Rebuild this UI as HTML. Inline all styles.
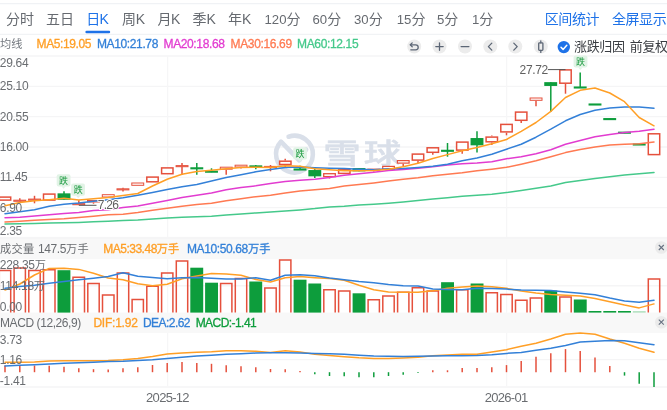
<!DOCTYPE html>
<html lang="zh-CN"><head><meta charset="utf-8"><title>K线图</title>
<style>
html,body{margin:0;padding:0;background:#fff;}
body{width:667px;height:410px;overflow:hidden;position:relative;font-family:"Liberation Sans","Noto Sans CJK SC",sans-serif;}
#r{position:absolute;left:0;top:0;width:667px;height:410px;will-change:transform;}
.t{position:absolute;white-space:nowrap;line-height:1.5;height:1.5em;}
.l{font-size:0.94em;}
.c{font-size:12px;line-height:18px;height:18px;}
.c .l{font-size:12px;}
.d .l{font-size:13px;}
.b{-webkit-text-stroke:0.3px currentColor;}
.h{-webkit-text-stroke:1.8px #fff;paint-order:stroke fill;}
svg{position:absolute;left:0;top:0;}
</style></head><body><div id="r">
<svg width="667" height="410" viewBox="0 0 667 410">
<line x1="0" x2="667" y1="3.6" y2="3.6" stroke="#f0f2f5" stroke-width="1.3"/>
<line x1="0" x2="667" y1="34.4" y2="34.4" stroke="#f1f3f5" stroke-width="1.3"/>
<rect x="85.4" y="30.8" width="24.8" height="2.5" rx="1.2" fill="#1e72e8"/>
<rect x="0" y="236.8" width="667" height="22.4" fill="#f8f8f8"/>
<rect x="0" y="312.6" width="667" height="20.4" fill="#f8f8f8"/>
<line x1="0" x2="667" y1="56" y2="56" stroke="#f5f5f6" stroke-width="1.4"/>
<line x1="0" x2="667" y1="86.33" y2="86.33" stroke="#f5f5f6" stroke-width="1.4"/>
<line x1="0" x2="667" y1="116.67" y2="116.67" stroke="#f5f5f6" stroke-width="1.4"/>
<line x1="0" x2="667" y1="147" y2="147" stroke="#f5f5f6" stroke-width="1.4"/>
<line x1="0" x2="667" y1="177.33" y2="177.33" stroke="#f5f5f6" stroke-width="1.4"/>
<line x1="0" x2="667" y1="207.67" y2="207.67" stroke="#f5f5f6" stroke-width="1.4"/>
<line x1="0" x2="667" y1="238" y2="238" stroke="#f5f5f6" stroke-width="1.4"/>
<line x1="0" x2="667" y1="285.7" y2="285.7" stroke="#f5f5f6" stroke-width="1.4"/>
<line x1="0" x2="667" y1="359.6" y2="359.6" stroke="#f5f5f6" stroke-width="1.4"/>
<line x1="0" x2="667" y1="387" y2="387" stroke="#f5f5f6" stroke-width="1.4"/>
<line x1="167.6" x2="167.6" y1="56" y2="237" stroke="#f6f6f7" stroke-width="1.3"/>
<line x1="167.6" x2="167.6" y1="259.2" y2="312.6" stroke="#f6f6f7" stroke-width="1.3"/>
<line x1="167.6" x2="167.6" y1="333" y2="386.5" stroke="#f6f6f7" stroke-width="1.3"/>
<line x1="506.6" x2="506.6" y1="56" y2="237" stroke="#f6f6f7" stroke-width="1.3"/>
<line x1="506.6" x2="506.6" y1="259.2" y2="312.6" stroke="#f6f6f7" stroke-width="1.3"/>
<line x1="506.6" x2="506.6" y1="333" y2="386.5" stroke="#f6f6f7" stroke-width="1.3"/>
<path d="M288.6 136.7 A18.4 18.4 0 1 1 281 141.6 L299.2 160.4 L306.2 149.4" fill="none" stroke="#d9dfe9" stroke-width="4.6" stroke-linecap="round" stroke-linejoin="round"/>
<text transform="translate(323.2 163.9) scale(1.31 1)" font-size="28.6" font-weight="500" letter-spacing="2.4" fill="#d9dfe9" stroke="#d9dfe9" stroke-width="0.5" font-family="'Liberation Sans','Noto Sans CJK SC',sans-serif">雪球</text>
<circle cx="414.2" cy="46.5" r="7" fill="#ececec"/>
<g transform="translate(414.2 46.5)" fill="none" stroke="#5c6675" stroke-width="1.3" stroke-linecap="round" stroke-linejoin="round"><path d="M-3.8 -1.7 H1.5 A2.5 2.5 0 0 1 1.5 3.3 H-3.4"/><path d="M-2 -3.6 L-3.9 -1.7 L-2 0.2"/></g>
<circle cx="439.5" cy="46.5" r="7" fill="#ececec"/>
<g transform="translate(439.5 46.5)" fill="none" stroke="#5c6675" stroke-width="1.3" stroke-linecap="round" stroke-linejoin="round"><path d="M-3.7 0.1 H3.7 M0 -3.6 V3.8"/></g>
<circle cx="465" cy="46.5" r="7" fill="#ececec"/>
<g transform="translate(465 46.5)" fill="none" stroke="#5c6675" stroke-width="1.3" stroke-linecap="round" stroke-linejoin="round"><path d="M-3.9 0.1 H3.9"/></g>
<circle cx="490.3" cy="46.5" r="7" fill="#ececec"/>
<g transform="translate(490.3 46.5)" fill="none" stroke="#5c6675" stroke-width="1.3" stroke-linecap="round" stroke-linejoin="round"><path d="M1.5 -3.4 L-1.9 0.1 L1.5 3.6"/></g>
<circle cx="515.3" cy="46.5" r="7" fill="#ececec"/>
<g transform="translate(515.3 46.5)" fill="none" stroke="#5c6675" stroke-width="1.3" stroke-linecap="round" stroke-linejoin="round"><path d="M-1.5 -3.4 L1.9 0.1 L-1.5 3.6"/></g>
<circle cx="540.8" cy="46.5" r="7" fill="#ececec"/>
<g transform="translate(540.8 46.5)" fill="none" stroke="#5c6675" stroke-width="1.3" stroke-linecap="round" stroke-linejoin="round"><rect x="-2.1" y="-3.7" width="4.2" height="7.6" rx="0.8"/><path d="M0 -5.7 V-3.7 M0 3.9 V5.9"/></g>
<circle cx="563.8" cy="47.1" r="6.2" fill="#1e72e8"/><path d="M561 47.3 L563.1 49.4 L566.8 45.2" fill="none" stroke="#fff" stroke-width="1.5" stroke-linecap="round" stroke-linejoin="round"/>
<circle cx="661.3" cy="247.5" r="6.3" fill="#ebebeb"/><path d="M658.8 245.0 l5 5 m0 -5 l-5 5" stroke="#667080" stroke-width="1.1" fill="none"/>
<circle cx="661.3" cy="322.2" r="6.3" fill="#ebebeb"/><path d="M658.8 319.7 l5 5 m0 -5 l-5 5" stroke="#667080" stroke-width="1.1" fill="none"/>
<rect x="-0.7" y="197.1" width="11.4" height="3" fill="#fff" stroke="#e5503c" stroke-width="1.5"/>
<line x1="19.8" x2="19.8" y1="198.3" y2="200.8" stroke="#e5503c" stroke-width="1.5"/>
<line x1="19.8" x2="19.8" y1="200.8" y2="202.5" stroke="#e5503c" stroke-width="1.5"/>
<rect x="13.8" y="200.2" width="11.9" height="1.1" fill="#fff" stroke="#e5503c" stroke-width="1"/>
<line x1="34.5" x2="34.5" y1="195.8" y2="199.7" stroke="#e5503c" stroke-width="1.5"/>
<line x1="34.5" x2="34.5" y1="199.7" y2="203.3" stroke="#e5503c" stroke-width="1.5"/>
<rect x="28.6" y="199.1" width="11.9" height="1.1" fill="#fff" stroke="#e5503c" stroke-width="1"/>
<rect x="43.5" y="194.1" width="11.4" height="6" fill="#fff" stroke="#e5503c" stroke-width="1.5"/>
<line x1="64" x2="64" y1="191.3" y2="199.7" stroke="#0d9d3c" stroke-width="1.5"/>
<rect x="58.3" y="194.1" width="11.4" height="4.9" fill="#0d9d3c" stroke="#0d9d3c" stroke-width="1.5"/>
<line x1="78.8" x2="78.8" y1="200.2" y2="204.2" stroke="#e5503c" stroke-width="1.5"/>
<rect x="72.8" y="203.6" width="11.9" height="1.1" fill="#fff" stroke="#e5503c" stroke-width="1"/>
<line x1="93.5" x2="93.5" y1="202.5" y2="203.7" stroke="#e5503c" stroke-width="1.5"/>
<rect x="87.5" y="200.5" width="11.9" height="1.5" fill="#fff" stroke="#e5503c" stroke-width="1"/>
<rect x="102.3" y="194.7" width="11.9" height="2.3" fill="#fff" stroke="#e5503c" stroke-width="1"/>
<line x1="123" x2="123" y1="187.7" y2="189.4" stroke="#e5503c" stroke-width="1.5"/>
<line x1="123" x2="123" y1="189.4" y2="191.5" stroke="#e5503c" stroke-width="1.5"/>
<rect x="117" y="188.8" width="11.9" height="1.1" fill="#fff" stroke="#e5503c" stroke-width="1"/>
<rect x="131.8" y="183" width="11.9" height="2.3" fill="#fff" stroke="#e5503c" stroke-width="1"/>
<rect x="146.8" y="177.1" width="11.4" height="4.7" fill="#fff" stroke="#e5503c" stroke-width="1.5"/>
<rect x="161.6" y="167.9" width="11.4" height="5.8" fill="#fff" stroke="#e5503c" stroke-width="1.5"/>
<line x1="182" x2="182" y1="163" y2="166.2" stroke="#e5503c" stroke-width="1.5"/>
<line x1="182" x2="182" y1="166.2" y2="175" stroke="#e5503c" stroke-width="1.5"/>
<rect x="176.1" y="165.6" width="11.9" height="1.1" fill="#fff" stroke="#e5503c" stroke-width="1"/>
<line x1="196.8" x2="196.8" y1="163" y2="174.7" stroke="#0d9d3c" stroke-width="1.5"/>
<rect x="191.1" y="168" width="11.4" height="0.6" fill="#0d9d3c" stroke="#0d9d3c" stroke-width="1.5"/>
<line x1="211.5" x2="211.5" y1="168.3" y2="172.2" stroke="#0d9d3c" stroke-width="1.5"/>
<rect x="205.8" y="171.4" width="11.4" height="0.6" fill="#0d9d3c" stroke="#0d9d3c" stroke-width="1.5"/>
<line x1="226.2" x2="226.2" y1="169.7" y2="174.7" stroke="#e5503c" stroke-width="1.5"/>
<rect x="220.3" y="167.2" width="11.9" height="2" fill="#fff" stroke="#e5503c" stroke-width="1"/>
<line x1="241" x2="241" y1="167.5" y2="168.5" stroke="#e5503c" stroke-width="1.5"/>
<rect x="235.1" y="165.2" width="11.9" height="1.8" fill="#fff" stroke="#e5503c" stroke-width="1"/>
<line x1="255.8" x2="255.8" y1="165" y2="169.2" stroke="#0d9d3c" stroke-width="1.5"/>
<rect x="250.1" y="166.1" width="11.4" height="0.6" fill="#0d9d3c" stroke="#0d9d3c" stroke-width="1.5"/>
<line x1="270.5" x2="270.5" y1="165" y2="167" stroke="#e5503c" stroke-width="1.5"/>
<line x1="270.5" x2="270.5" y1="167" y2="171.3" stroke="#e5503c" stroke-width="1.5"/>
<rect x="264.6" y="166.4" width="11.9" height="1.1" fill="#fff" stroke="#e5503c" stroke-width="1"/>
<line x1="285.2" x2="285.2" y1="158.7" y2="160.5" stroke="#e5503c" stroke-width="1.5"/>
<line x1="285.2" x2="285.2" y1="165.3" y2="167" stroke="#e5503c" stroke-width="1.5"/>
<rect x="279.6" y="161.2" width="11.4" height="3.3" fill="#fff" stroke="#e5503c" stroke-width="1.5"/>
<line x1="300" x2="300" y1="165.8" y2="170" stroke="#0d9d3c" stroke-width="1.5"/>
<rect x="294.3" y="169.2" width="11.4" height="0.6" fill="#0d9d3c" stroke="#0d9d3c" stroke-width="1.5"/>
<line x1="314.8" x2="314.8" y1="168.7" y2="178" stroke="#0d9d3c" stroke-width="1.5"/>
<rect x="309.1" y="170.8" width="11.4" height="4.8" fill="#0d9d3c" stroke="#0d9d3c" stroke-width="1.5"/>
<line x1="329.5" x2="329.5" y1="177.2" y2="178.5" stroke="#e5503c" stroke-width="1.5"/>
<rect x="323.7" y="173.7" width="11.6" height="2.9" fill="#fff" stroke="#e5503c" stroke-width="1.3"/>
<rect x="338.6" y="169.4" width="11.4" height="4" fill="#fff" stroke="#e5503c" stroke-width="1.5"/>
<line x1="359" x2="359" y1="168" y2="171.3" stroke="#0d9d3c" stroke-width="1.5"/>
<rect x="353.3" y="168.8" width="11.4" height="1.8" fill="#0d9d3c" stroke="#0d9d3c" stroke-width="1.5"/>
<line x1="373.8" x2="373.8" y1="169.7" y2="171.5" stroke="#e5503c" stroke-width="1.5"/>
<rect x="367.8" y="169.1" width="11.9" height="1.1" fill="#fff" stroke="#e5503c" stroke-width="1"/>
<rect x="382.7" y="166.4" width="11.7" height="2.7" fill="#fff" stroke="#e5503c" stroke-width="1.2"/>
<line x1="403.2" x2="403.2" y1="163.7" y2="166.7" stroke="#e5503c" stroke-width="1.5"/>
<rect x="397.4" y="160.6" width="11.7" height="2.5" fill="#fff" stroke="#e5503c" stroke-width="1.2"/>
<line x1="418" x2="418" y1="160.8" y2="163" stroke="#e5503c" stroke-width="1.5"/>
<rect x="412.3" y="154.1" width="11.4" height="6" fill="#fff" stroke="#e5503c" stroke-width="1.5"/>
<line x1="432.8" x2="432.8" y1="153" y2="154.7" stroke="#e5503c" stroke-width="1.5"/>
<rect x="427.1" y="147.8" width="11.4" height="4.5" fill="#fff" stroke="#e5503c" stroke-width="1.5"/>
<line x1="447.5" x2="447.5" y1="143" y2="156.7" stroke="#0d9d3c" stroke-width="1.5"/>
<rect x="441.8" y="150.5" width="11.4" height="0.6" fill="#0d9d3c" stroke="#0d9d3c" stroke-width="1.5"/>
<line x1="462.2" x2="462.2" y1="150.8" y2="153.7" stroke="#e5503c" stroke-width="1.5"/>
<rect x="456.6" y="142.1" width="11.4" height="8" fill="#fff" stroke="#e5503c" stroke-width="1.5"/>
<line x1="477" x2="477" y1="131.2" y2="152.5" stroke="#0d9d3c" stroke-width="1.5"/>
<rect x="471.3" y="138.8" width="11.4" height="5.8" fill="#0d9d3c" stroke="#0d9d3c" stroke-width="1.5"/>
<line x1="491.8" x2="491.8" y1="135.5" y2="136.3" stroke="#e5503c" stroke-width="1.5"/>
<line x1="491.8" x2="491.8" y1="142.5" y2="145" stroke="#e5503c" stroke-width="1.5"/>
<rect x="486.1" y="137.1" width="11.4" height="4.7" fill="#fff" stroke="#e5503c" stroke-width="1.5"/>
<line x1="506.5" x2="506.5" y1="132.7" y2="135.3" stroke="#e5503c" stroke-width="1.5"/>
<rect x="500.8" y="124.4" width="11.4" height="7.5" fill="#fff" stroke="#e5503c" stroke-width="1.5"/>
<line x1="521.2" x2="521.2" y1="121" y2="123" stroke="#e5503c" stroke-width="1.5"/>
<rect x="515.5" y="112.1" width="11.4" height="8.2" fill="#fff" stroke="#e5503c" stroke-width="1.5"/>
<line x1="536" x2="536" y1="100.8" y2="106.3" stroke="#e5503c" stroke-width="1.5"/>
<rect x="530.1" y="98" width="11.9" height="2.3" fill="#fff" stroke="#e5503c" stroke-width="1"/>
<line x1="550.8" x2="550.8" y1="82.2" y2="111.7" stroke="#0d9d3c" stroke-width="1.5"/>
<rect x="545" y="82.9" width="11.4" height="2.3" fill="#0d9d3c" stroke="#0d9d3c" stroke-width="1.5"/>
<line x1="565.5" x2="565.5" y1="84" y2="93.7" stroke="#e5503c" stroke-width="1.5"/>
<rect x="559.8" y="69.9" width="11.4" height="13.3" fill="#fff" stroke="#e5503c" stroke-width="1.5"/>
<line x1="580.2" x2="580.2" y1="72.5" y2="88" stroke="#0d9d3c" stroke-width="1.5"/>
<rect x="574.5" y="87.2" width="11.4" height="0.6" fill="#0d9d3c" stroke="#0d9d3c" stroke-width="1.5"/>
<line x1="595" x2="595" y1="104" y2="105" stroke="#0d9d3c" stroke-width="1.5"/>
<rect x="589.3" y="104.2" width="11.4" height="0.6" fill="#0d9d3c" stroke="#0d9d3c" stroke-width="1.5"/>
<line x1="609.8" x2="609.8" y1="118.6" y2="119.6" stroke="#0d9d3c" stroke-width="1.5"/>
<rect x="604" y="118.8" width="11.4" height="0.6" fill="#0d9d3c" stroke="#0d9d3c" stroke-width="1.5"/>
<line x1="624.5" x2="624.5" y1="132.2" y2="133.2" stroke="#0d9d3c" stroke-width="1.5"/>
<rect x="618.8" y="132.4" width="11.4" height="0.6" fill="#0d9d3c" stroke="#0d9d3c" stroke-width="1.5"/>
<line x1="639.2" x2="639.2" y1="144" y2="145" stroke="#0d9d3c" stroke-width="1.5"/>
<rect x="633.5" y="144.2" width="11.4" height="0.6" fill="#0d9d3c" stroke="#0d9d3c" stroke-width="1.5"/>
<rect x="648.3" y="133.8" width="11.4" height="20.8" fill="#fff" stroke="#e5503c" stroke-width="1.5"/>
<polyline points="5,224.1 19.8,223.8 34.5,223.5 49.2,223.1 64,222.7 78.8,222.4 93.5,221.8 108.2,221.2 123,220.6 137.8,220 152.5,218.9 167.2,217.9 182,217.3 196.8,216.8 211.5,216.2 226.2,215.1 241,214 255.8,212.9 270.5,211.9 285.2,210.9 300,209.9 314.8,208.6 329.5,206.9 344.2,206.3 359,205 373.8,204.2 388.5,203.2 403.2,202 418,200.5 432.8,199.1 447.5,197.7 462.2,196.2 477,195.2 491.8,194.2 506.5,192.5 521.2,190.5 536,188.3 550.8,186 565.5,182.4 580.2,180.4 595,178.5 609.8,176.7 624.5,175.1 639.2,173.8 654,172.4" fill="none" stroke="#45c98b" stroke-width="1.5" stroke-linejoin="round" stroke-linecap="round"/>
<polyline points="5,222 19.8,221.2 34.5,220.3 49.2,219.5 64,218.7 78.8,217.5 93.5,216.2 108.2,214.7 123,214.2 137.8,212.5 152.5,210.3 167.2,208.3 182,206.2 196.8,204.5 211.5,203.3 226.2,200.8 241,198.7 255.8,196.7 270.5,195.3 285.2,193 300,190.9 314.8,189.8 329.5,188.4 344.2,186.1 359,184.4 373.8,182.9 388.5,181.1 403.2,179.2 418,177.8 432.8,175.8 447.5,174.2 462.2,172.8 477,170.8 491.8,169.2 506.5,167.3 521.2,164.2 536,160.8 550.8,156.7 565.5,152.6 580.2,149.5 595,147 609.8,145.1 624.5,144.2 639.2,143.8 654,142" fill="none" stroke="#ff7a52" stroke-width="1.5" stroke-linejoin="round" stroke-linecap="round"/>
<polyline points="5,217.8 19.8,217.3 34.5,216 49.2,214.8 64,213.6 78.8,212.6 93.5,210.5 108.2,209.8 123,207.6 137.8,205.9 152.5,203.2 167.2,200.5 182,197.5 196.8,195.3 211.5,193 226.2,189.8 241,187.6 255.8,185.8 270.5,183.5 285.2,181.5 300,180.3 314.8,179.2 329.5,177.5 344.2,175.3 359,173.8 373.8,172.2 388.5,170.5 403.2,169.4 418,168.3 432.8,166.7 447.5,164.9 462.2,163.8 477,163 491.8,161.7 506.5,158.7 521.2,156.7 536,153.7 550.8,149.7 565.5,144.2 580.2,140.5 595,136.8 609.8,134.4 624.5,132.5 639.2,131.3 654,129.2" fill="none" stroke="#e23cd0" stroke-width="1.5" stroke-linejoin="round" stroke-linecap="round"/>
<polyline points="5,213.7 19.8,211.7 34.5,209.7 49.2,206.3 64,204.2 78.8,203 93.5,201.3 108.2,199.7 123,197.8 137.8,195.2 152.5,192.5 167.2,189.5 182,186.7 196.8,184.5 211.5,180.9 226.2,177.6 241,174.8 255.8,171.8 270.5,169.6 285.2,167.6 300,167.1 314.8,167.7 329.5,168.2 344.2,168.5 359,169.3 373.8,169.8 388.5,168.8 403.2,168.6 418,167.5 432.8,166.3 447.5,164.2 462.2,160.8 477,158 491.8,154.2 506.5,149.2 521.2,144.2 536,137.2 550.8,129.2 565.5,120.8 580.2,114.5 595,110.3 609.8,108 624.5,107 639.2,107 654,108.3" fill="none" stroke="#3380d8" stroke-width="1.5" stroke-linejoin="round" stroke-linecap="round"/>
<polyline points="5,205.8 19.8,202.5 34.5,200.8 49.2,199.7 64,198.3 78.8,200 93.5,198.7 108.2,197.5 123,195.5 137.8,193.5 152.5,186 167.2,179.2 182,174.2 196.8,171.6 211.5,170.3 226.2,168.8 241,167.6 255.8,167.2 270.5,167.5 285.2,165.8 300,166.3 314.8,168.7 329.5,169.7 344.2,170.8 359,170.8 373.8,170.4 388.5,169.2 403.2,166.7 418,163.3 432.8,158.5 447.5,154.6 462.2,150.8 477,147.5 491.8,143.7 506.5,139.5 521.2,131.3 536,122.5 550.8,111.4 565.5,97.5 580.2,90.3 595,88 609.8,93 624.5,101.7 639.2,117.5 654,125.8" fill="none" stroke="#ff9f26" stroke-width="1.5" stroke-linejoin="round" stroke-linecap="round"/>
<line x1="547.5" x2="565.5" y1="69.6" y2="69.6" stroke="#555" stroke-width="1"/>
<line x1="78.8" x2="96.5" y1="205.3" y2="205.3" stroke="#555" stroke-width="1"/>
<rect x="56.7" y="174.2" width="13.8" height="12.2" rx="2" fill="#e2f3e6"/><path d="M61.4 186.3 h4.4 l-2.2 2.4 z" fill="#e2f3e6"/>
<text x="63.6" y="183.7" font-size="9" fill="#17993c" text-anchor="middle" font-family="'Liberation Sans','Noto Sans CJK SC',sans-serif">跌</text>
<rect x="71.2" y="183.6" width="13.8" height="12.2" rx="2" fill="#e2f3e6"/><path d="M76 195.7 h4.4 l-2.2 2.4 z" fill="#e2f3e6"/>
<text x="78.2" y="193.1" font-size="9" fill="#17993c" text-anchor="middle" font-family="'Liberation Sans','Noto Sans CJK SC',sans-serif">跌</text>
<rect x="293.2" y="147.2" width="13.8" height="12.2" rx="2" fill="#e2f3e6"/><path d="M297.9 159.3 h4.4 l-2.2 2.4 z" fill="#e2f3e6"/>
<text x="300.1" y="156.7" font-size="9" fill="#17993c" text-anchor="middle" font-family="'Liberation Sans','Noto Sans CJK SC',sans-serif">跌</text>
<rect x="573.6" y="55.4" width="13.8" height="12.2" rx="2" fill="#e2f3e6"/><path d="M578.2 67.5 h4.4 l-2.2 2.4 z" fill="#e2f3e6"/>
<text x="580.5" y="64.9" font-size="9" fill="#17993c" text-anchor="middle" font-family="'Liberation Sans','Noto Sans CJK SC',sans-serif">跌</text>
<path d="M-0.7 312.6 V270.4 H10.7 V312.6" fill="none" stroke="#e5503c" stroke-width="1.5"/>
<path d="M14.1 312.6 V267.9 H25.4 V312.6" fill="none" stroke="#e5503c" stroke-width="1.5"/>
<path d="M28.8 312.6 V270.4 H40.2 V312.6" fill="none" stroke="#e5503c" stroke-width="1.5"/>
<path d="M43.5 312.6 V269.8 H55 V312.6" fill="none" stroke="#e5503c" stroke-width="1.5"/>
<rect x="57.5" y="270.2" width="12.9" height="42.4" fill="#0d9d3c"/>
<path d="M73 312.6 V277.2 H84.5 V312.6" fill="none" stroke="#e5503c" stroke-width="1.5"/>
<path d="M87.8 312.6 V283.4 H99.2 V312.6" fill="none" stroke="#e5503c" stroke-width="1.5"/>
<path d="M102.5 312.6 V294.9 H114 V312.6" fill="none" stroke="#e5503c" stroke-width="1.5"/>
<path d="M117.3 312.6 V272.9 H128.7 V312.6" fill="none" stroke="#e5503c" stroke-width="1.5"/>
<path d="M132.1 312.6 V299.4 H143.4 V312.6" fill="none" stroke="#e5503c" stroke-width="1.5"/>
<path d="M146.8 312.6 V286.2 H158.2 V312.6" fill="none" stroke="#e5503c" stroke-width="1.5"/>
<path d="M161.6 312.6 V272.9 H172.9 V312.6" fill="none" stroke="#e5503c" stroke-width="1.5"/>
<path d="M176.3 312.6 V260.9 H187.7 V312.6" fill="none" stroke="#e5503c" stroke-width="1.5"/>
<rect x="190.3" y="267.7" width="12.9" height="44.9" fill="#0d9d3c"/>
<rect x="205.1" y="282.7" width="12.9" height="29.9" fill="#0d9d3c"/>
<path d="M220.6 312.6 V283.4 H231.9 V312.6" fill="none" stroke="#e5503c" stroke-width="1.5"/>
<path d="M235.3 312.6 V278.4 H246.7 V312.6" fill="none" stroke="#e5503c" stroke-width="1.5"/>
<rect x="249.3" y="281.5" width="12.9" height="31.1" fill="#0d9d3c"/>
<path d="M264.8 312.6 V288.1 H276.2 V312.6" fill="none" stroke="#e5503c" stroke-width="1.5"/>
<path d="M279.6 312.6 V260.1 H290.9 V312.6" fill="none" stroke="#e5503c" stroke-width="1.5"/>
<rect x="293.6" y="279.7" width="12.9" height="32.9" fill="#0d9d3c"/>
<rect x="308.3" y="283.5" width="12.9" height="29.1" fill="#0d9d3c"/>
<path d="M323.8 312.6 V289.8 H335.2 V312.6" fill="none" stroke="#e5503c" stroke-width="1.5"/>
<path d="M338.6 312.6 V291.1 H349.9 V312.6" fill="none" stroke="#e5503c" stroke-width="1.5"/>
<rect x="352.6" y="293.3" width="12.9" height="19.3" fill="#0d9d3c"/>
<path d="M368.1 312.6 V299.8 H379.4 V312.6" fill="none" stroke="#e5503c" stroke-width="1.5"/>
<path d="M382.8 312.6 V296.1 H394.2 V312.6" fill="none" stroke="#e5503c" stroke-width="1.5"/>
<path d="M397.6 312.6 V292.2 H408.9 V312.6" fill="none" stroke="#e5503c" stroke-width="1.5"/>
<path d="M412.3 312.6 V287.8 H423.7 V312.6" fill="none" stroke="#e5503c" stroke-width="1.5"/>
<path d="M427.1 312.6 V291.1 H438.4 V312.6" fill="none" stroke="#e5503c" stroke-width="1.5"/>
<rect x="441.1" y="282.2" width="12.9" height="30.4" fill="#0d9d3c"/>
<path d="M456.6 312.6 V289.8 H467.9 V312.6" fill="none" stroke="#e5503c" stroke-width="1.5"/>
<rect x="470.6" y="283.5" width="12.9" height="29.1" fill="#0d9d3c"/>
<path d="M486.1 312.6 V292.8 H497.4 V312.6" fill="none" stroke="#e5503c" stroke-width="1.5"/>
<path d="M500.8 312.6 V294.6 H512.2 V312.6" fill="none" stroke="#e5503c" stroke-width="1.5"/>
<path d="M515.5 312.6 V300.2 H527 V312.6" fill="none" stroke="#e5503c" stroke-width="1.5"/>
<path d="M530.3 312.6 V297.9 H541.7 V312.6" fill="none" stroke="#e5503c" stroke-width="1.5"/>
<rect x="544.3" y="290.5" width="12.9" height="22.1" fill="#0d9d3c"/>
<path d="M559.8 312.6 V296.9 H571.2 V312.6" fill="none" stroke="#e5503c" stroke-width="1.5"/>
<rect x="573.8" y="299.5" width="12.9" height="13.1" fill="#0d9d3c"/>
<rect x="588.5" y="311" width="12.9" height="1.6" fill="#0d9d3c"/>
<rect x="603.3" y="311" width="12.9" height="1.6" fill="#0d9d3c"/>
<rect x="618" y="311" width="12.9" height="1.6" fill="#0d9d3c"/>
<rect x="632.8" y="311.2" width="12.9" height="1.4" fill="#a9dcb8"/>
<path d="M648.3 312.6 V279.1 H659.7 V312.6" fill="none" stroke="#e5503c" stroke-width="1.5"/>
<polyline points="5,290 19.8,284 34.5,275 49.2,268.4 64,268.2 78.8,269.4 93.5,273.3 108.2,278 123,279.7 137.8,283.8 152.5,285.8 167.2,284.2 182,278.7 196.8,276 211.5,273.4 226.2,274 241,275.2 255.8,279.5 270.5,282 285.2,277.7 300,276.5 314.8,277.7 329.5,278.6 344.2,280.2 359,285.3 373.8,289.8 388.5,292 403.2,292.3 418,292.3 432.8,290.8 447.5,288.3 462.2,287 477,286 491.8,286.7 506.5,288.3 521.2,291 536,293 550.8,294.4 565.5,295.3 580.2,296.1 595,298.4 609.8,301.7 624.5,305 639.2,307.9 654,303.9" fill="none" stroke="#ff9f26" stroke-width="1.5" stroke-linejoin="round" stroke-linecap="round"/>
<polyline points="5,288.3 19.8,286.5 34.5,285.3 49.2,283.2 64,281.5 78.8,279.7 93.5,278.2 108.2,276.5 123,272.7 137.8,276.3 152.5,277.5 167.2,278.7 182,277.7 196.8,277.5 211.5,278.2 226.2,279 241,279 255.8,277.7 270.5,280.2 285.2,275.2 300,274.7 314.8,275.7 329.5,278 344.2,279.7 359,281.5 373.8,282.7 388.5,284.5 403.2,285.8 418,286 432.8,289 447.5,289.5 462.2,289.8 477,288.3 491.8,288.6 506.5,289.1 521.2,290 536,290.2 550.8,290.5 565.5,291.9 580.2,293.3 595,294.7 609.8,298.1 624.5,300.9 639.2,302.3 654,300.2" fill="none" stroke="#3380d8" stroke-width="1.5" stroke-linejoin="round" stroke-linecap="round"/>
<line x1="5" x2="5" y1="372.2" y2="365.5" stroke="#e5503c" stroke-width="1.5"/>
<line x1="19.8" x2="19.8" y1="372.2" y2="365.5" stroke="#e5503c" stroke-width="1.5"/>
<line x1="34.5" x2="34.5" y1="372.2" y2="365.5" stroke="#e5503c" stroke-width="1.5"/>
<line x1="49.2" x2="49.2" y1="372.2" y2="365.8" stroke="#e5503c" stroke-width="1.5"/>
<line x1="64" x2="64" y1="372.2" y2="366.7" stroke="#e5503c" stroke-width="1.5"/>
<line x1="78.8" x2="78.8" y1="372.2" y2="368.3" stroke="#e5503c" stroke-width="1.5"/>
<line x1="93.5" x2="93.5" y1="372.2" y2="369.2" stroke="#e5503c" stroke-width="1.5"/>
<line x1="108.2" x2="108.2" y1="372.2" y2="369.4" stroke="#e5503c" stroke-width="1.5"/>
<line x1="123" x2="123" y1="372.2" y2="368.3" stroke="#e5503c" stroke-width="1.5"/>
<line x1="137.8" x2="137.8" y1="372.2" y2="367.2" stroke="#e5503c" stroke-width="1.5"/>
<line x1="152.5" x2="152.5" y1="372.2" y2="365" stroke="#e5503c" stroke-width="1.5"/>
<line x1="167.2" x2="167.2" y1="372.2" y2="363" stroke="#e5503c" stroke-width="1.5"/>
<line x1="182" x2="182" y1="372.2" y2="362" stroke="#e5503c" stroke-width="1.5"/>
<line x1="196.8" x2="196.8" y1="372.2" y2="363" stroke="#e5503c" stroke-width="1.5"/>
<line x1="211.5" x2="211.5" y1="372.2" y2="363.8" stroke="#e5503c" stroke-width="1.5"/>
<line x1="226.2" x2="226.2" y1="372.2" y2="365.3" stroke="#e5503c" stroke-width="1.5"/>
<line x1="241" x2="241" y1="372.2" y2="366.3" stroke="#e5503c" stroke-width="1.5"/>
<line x1="255.8" x2="255.8" y1="372.2" y2="367.3" stroke="#e5503c" stroke-width="1.5"/>
<line x1="270.5" x2="270.5" y1="372.2" y2="369" stroke="#e5503c" stroke-width="1.5"/>
<line x1="285.2" x2="285.2" y1="372.2" y2="369.3" stroke="#e5503c" stroke-width="1.5"/>
<line x1="300" x2="300" y1="372.2" y2="371" stroke="#e5503c" stroke-width="1.5"/>
<line x1="314.8" x2="314.8" y1="372.2" y2="374.3" stroke="#0d9d3c" stroke-width="1.5"/>
<line x1="329.5" x2="329.5" y1="372.2" y2="376" stroke="#0d9d3c" stroke-width="1.5"/>
<line x1="344.2" x2="344.2" y1="372.2" y2="376.3" stroke="#0d9d3c" stroke-width="1.5"/>
<line x1="359" x2="359" y1="372.2" y2="377.3" stroke="#0d9d3c" stroke-width="1.5"/>
<line x1="373.8" x2="373.8" y1="372.2" y2="377.3" stroke="#0d9d3c" stroke-width="1.5"/>
<line x1="388.5" x2="388.5" y1="372.2" y2="376" stroke="#0d9d3c" stroke-width="1.5"/>
<line x1="403.2" x2="403.2" y1="372.2" y2="374.8" stroke="#0d9d3c" stroke-width="1.5"/>
<line x1="418" x2="418" y1="372.2" y2="373" stroke="#0d9d3c" stroke-width="1.5"/>
<line x1="432.8" x2="432.8" y1="372.2" y2="370.3" stroke="#e5503c" stroke-width="1.5"/>
<line x1="447.5" x2="447.5" y1="372.2" y2="370.3" stroke="#e5503c" stroke-width="1.5"/>
<line x1="462.2" x2="462.2" y1="372.2" y2="368" stroke="#e5503c" stroke-width="1.5"/>
<line x1="477" x2="477" y1="372.2" y2="368" stroke="#e5503c" stroke-width="1.5"/>
<line x1="491.8" x2="491.8" y1="372.2" y2="367.3" stroke="#e5503c" stroke-width="1.5"/>
<line x1="506.5" x2="506.5" y1="372.2" y2="365.1" stroke="#e5503c" stroke-width="1.5"/>
<line x1="521.2" x2="521.2" y1="372.2" y2="360.9" stroke="#e5503c" stroke-width="1.5"/>
<line x1="536" x2="536" y1="372.2" y2="356.7" stroke="#e5503c" stroke-width="1.5"/>
<line x1="550.8" x2="550.8" y1="372.2" y2="353.3" stroke="#e5503c" stroke-width="1.5"/>
<line x1="565.5" x2="565.5" y1="372.2" y2="349.1" stroke="#e5503c" stroke-width="1.5"/>
<line x1="580.2" x2="580.2" y1="372.2" y2="351" stroke="#e5503c" stroke-width="1.5"/>
<line x1="595" x2="595" y1="372.2" y2="357.5" stroke="#e5503c" stroke-width="1.5"/>
<line x1="609.8" x2="609.8" y1="372.2" y2="365.9" stroke="#e5503c" stroke-width="1.5"/>
<line x1="624.5" x2="624.5" y1="372.2" y2="375.6" stroke="#0d9d3c" stroke-width="1.5"/>
<line x1="639.2" x2="639.2" y1="372.2" y2="383.7" stroke="#0d9d3c" stroke-width="1.5"/>
<line x1="654" x2="654" y1="372.2" y2="387" stroke="#0d9d3c" stroke-width="1.5"/>
<polyline points="5,362.3 19.8,362.2 34.5,362 49.2,360.9 64,360.8 78.8,360.8 93.5,360.8 108.2,360.5 123,359.8 137.8,358.5 152.5,356.5 167.2,354.1 182,353 196.8,352.2 211.5,351.7 226.2,350.8 241,350.8 255.8,351.3 270.5,352.4 285.2,350.8 300,352 314.8,354.2 329.5,355.6 344.2,356.7 359,357.8 373.8,358.5 388.5,358.5 403.2,358 418,357.3 432.8,355.8 447.5,355 462.2,354.3 477,354.2 491.8,352 506.5,349.7 521.2,346.3 536,343.2 550.8,339 565.5,334.2 580.2,333.1 595,334.2 609.8,339 624.5,343.2 639.2,348.3 654,352.3" fill="none" stroke="#ff9f26" stroke-width="1.5" stroke-linejoin="round" stroke-linecap="round"/>
<polyline points="5,366 19.8,365.3 34.5,364.8 49.2,364 64,363.3 78.8,362.8 93.5,362.3 108.2,361.5 123,361.3 137.8,360.5 152.5,359.8 167.2,358.5 182,357.3 196.8,356 211.5,355.2 226.2,354.2 241,353.7 255.8,353 270.5,352.7 285.2,352.7 300,353 314.8,353.5 329.5,353.8 344.2,354.2 359,355.2 373.8,356 388.5,356.3 403.2,356.4 418,356.3 432.8,356 447.5,355.8 462.2,355.7 477,355.5 491.8,354.7 506.5,353.4 521.2,352.5 536,350.2 550.8,348.3 565.5,345.5 580.2,342.1 595,341.3 609.8,340.4 624.5,340.7 639.2,342.7 654,344.7" fill="none" stroke="#3380d8" stroke-width="1.5" stroke-linejoin="round" stroke-linecap="round"/>
</svg>
<div class="t" style="left:86.3px;top:8.8px;font-size:14px;color:#1e72e8;">日<span style="margin-left:-0.8px">K</span></div>
<div class="t" style="left:121.9px;top:8.8px;font-size:14px;color:#666a70;">周<span style="margin-left:-0.2px">K</span></div>
<div class="t" style="left:157.4px;top:8.8px;font-size:14px;color:#666a70;">月<span style="margin-left:-0.4px">K</span></div>
<div class="t" style="left:192.6px;top:8.8px;font-size:14px;color:#666a70;">季<span style="margin-left:-0.1px">K</span></div>
<div class="t" style="left:228px;top:8.8px;font-size:14px;color:#666a70;">年<span style="margin-left:-0.1px">K</span></div>
<div class="t " style="left:6px;top:8.8px;font-size:14px;color:#666a70;">分时</div>
<div class="t " style="left:46px;top:8.8px;font-size:14px;color:#666a70;">五日</div>
<div class="t " style="left:264.5px;top:8.8px;font-size:14px;color:#666a70;"><span class="l">120</span>分</div>
<div class="t " style="left:312.5px;top:8.8px;font-size:14px;color:#666a70;"><span class="l">60</span>分</div>
<div class="t " style="left:354px;top:8.8px;font-size:14px;color:#666a70;"><span class="l">30</span>分</div>
<div class="t " style="left:396.8px;top:8.8px;font-size:14px;color:#666a70;"><span class="l">15</span>分</div>
<div class="t " style="left:437px;top:8.8px;font-size:14px;color:#666a70;"><span class="l">5</span>分</div>
<div class="t " style="left:472px;top:8.8px;font-size:14px;color:#666a70;"><span class="l">1</span>分</div>
<div class="t " style="left:544.7px;top:8.8px;font-size:14px;color:#1e72e8;letter-spacing:-0.4px">区间统计</div>
<div class="t " style="left:611.9px;top:8.8px;font-size:14px;color:#1e72e8;letter-spacing:-0.4px">全屏显示</div>
<div class="t c " style="left:0px;top:35.1px;color:#73787f;"><span style="font-size:11.2px;letter-spacing:0.10px;">均线</span></div>
<div class="t c b" style="left:36.6px;top:34.8px;color:#ff9f26;"><span class="l" style="letter-spacing:-0.40px">MA5:19.05</span></div>
<div class="t c b" style="left:96.9px;top:34.8px;color:#3380d8;"><span class="l" style="letter-spacing:-0.36px">MA10:21.78</span></div>
<div class="t c b" style="left:163.5px;top:34.8px;color:#e23cd0;"><span class="l" style="letter-spacing:-0.37px">MA20:18.68</span></div>
<div class="t c b" style="left:230.6px;top:34.8px;color:#ff7a52;"><span class="l" style="letter-spacing:-0.36px">MA30:16.69</span></div>
<div class="t c b" style="left:297.1px;top:34.8px;color:#45c98b;"><span class="l" style="letter-spacing:-0.36px">MA60:12.15</span></div>
<div class="t " style="left:574px;top:36.9px;font-size:13px;color:#3a3d42;letter-spacing:-0.35px">涨跌归因</div>
<div class="t " style="left:629.8px;top:36.9px;font-size:13px;color:#3a3d42;letter-spacing:-0.35px">前复权</div>
<div class="t c " style="left:-0.2px;top:53.5px;color:#6a6d71;"><span class="l" style="letter-spacing:-0.30px">29.64</span></div>
<div class="t c " style="left:-0.2px;top:77.2px;color:#6a6d71;"><span class="l" style="letter-spacing:-0.30px">25.10</span></div>
<div class="t c " style="left:-0.2px;top:107.7px;color:#6a6d71;"><span class="l" style="letter-spacing:-0.30px">20.55</span></div>
<div class="t c " style="left:-0.2px;top:138px;color:#6a6d71;"><span class="l" style="letter-spacing:-0.30px">16.00</span></div>
<div class="t c " style="left:-0.2px;top:168.3px;color:#6a6d71;"><span class="l" style="letter-spacing:-0.30px">11.45</span></div>
<div class="t c " style="left:-0.2px;top:198.5px;color:#6a6d71;"><span class="l" style="letter-spacing:-0.30px">6.90</span></div>
<div class="t c " style="left:-0.2px;top:222px;color:#6a6d71;"><span class="l" style="letter-spacing:-0.30px">2.35</span></div>
<div class="t c h" style="left:519.6px;top:61px;color:#606060;"><span class="l" style="letter-spacing:-0.37px">27.72</span></div>
<div class="t c h" style="left:97.7px;top:195.8px;color:#606060;"><span class="l" style="letter-spacing:-0.69px">7.26</span></div>
<div class="t c " style="left:0px;top:239.5px;color:#6a6d71;"><span style="font-size:11.2px;letter-spacing:0.27px;">成交量</span><span class="l" style="letter-spacing:0.17px"> </span><span class="l" style="letter-spacing:-0.37px">147.5</span><span style="font-size:11.2px;letter-spacing:0.30px;">万手</span></div>
<div class="t c b" style="left:103.2px;top:239.5px;color:#ff9f26;"><span class="l" style="letter-spacing:-0.49px">MA5:33.48</span><span style="font-size:11.2px;letter-spacing:0.10px;">万手</span></div>
<div class="t c b" style="left:186.9px;top:239.5px;color:#3380d8;"><span class="l" style="letter-spacing:-0.37px">MA10:50.68</span><span style="font-size:11.2px;letter-spacing:0.10px;">万手</span></div>
<div class="t c " style="left:-0.2px;top:256px;color:#6a6d71;"><span class="l" style="letter-spacing:-0.30px">228.35</span><span style="font-size:11.2px;">万</span></div>
<div class="t c " style="left:-0.2px;top:276.5px;color:#6a6d71;"><span class="l" style="letter-spacing:-0.30px">114.18</span><span style="font-size:11.2px;">万</span></div>
<div class="t c " style="left:-0.2px;top:297.6px;color:#6a6d71;"><span class="l" style="letter-spacing:-0.30px">0.00</span></div>
<div class="t c " style="left:0px;top:314.3px;color:#6a6d71;"><span class="l" style="letter-spacing:-0.42px">MACD (12,26,9)</span></div>
<div class="t c b" style="left:93.4px;top:314.3px;color:#ff9f26;"><span class="l" style="letter-spacing:-0.23px">DIF:1.92</span></div>
<div class="t c b" style="left:142.9px;top:314.3px;color:#3380d8;"><span class="l" style="letter-spacing:-0.53px">DEA:2.62</span></div>
<div class="t c b" style="left:195.7px;top:314.3px;color:#0d9d3c;"><span class="l" style="letter-spacing:-0.56px">MACD:-1.41</span></div>
<div class="t c " style="left:-0.2px;top:330.7px;color:#6a6d71;"><span class="l" style="letter-spacing:-0.30px">3.73</span></div>
<div class="t c " style="left:-0.2px;top:351.3px;color:#6a6d71;"><span class="l" style="letter-spacing:-0.30px">1.16</span></div>
<div class="t c " style="left:-0.2px;top:372px;color:#6a6d71;"><span class="l" style="letter-spacing:-0.30px">-1.41</span></div>
<div class="t c d" style="left:146.1px;top:388.6px;color:#6a6d71;"><span class="l" style="letter-spacing:-0.70px">2025-12</span></div>
<div class="t c d" style="left:484.7px;top:388.6px;color:#6a6d71;"><span class="l" style="letter-spacing:-0.70px">2026-01</span></div>
</div></body></html>
